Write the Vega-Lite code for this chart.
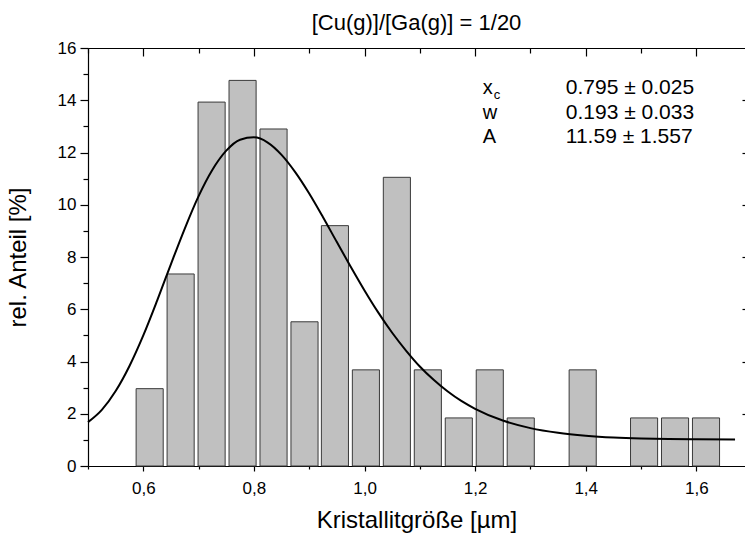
{
  "$schema": "https://vega.github.io/schema/vega-lite/v6.json",
  "width": 657,
  "height": 418,
  "autosize": {"type": "none"},
  "padding": {"left": 88, "top": 48, "right": 0, "bottom": 67},
  "background": "white",
  "config": {
    "font": "Liberation Sans",
    "view": {"stroke": null},
    "axis": {"grid": false, "domainColor": "black", "tickColor": "black", "labelColor": "black", "titleColor": "black", "domainWidth": 1.2, "tickWidth": 1.2, "titleFontWeight": "normal"}
  },
  "title": {"text": "[Cu(g)]/[Ga(g)] = 1/20", "fontSize": 22, "fontWeight": "normal", "anchor": "middle", "baseline": "alphabetic", "offset": 18, "dy": 31, "color": "black"},
  "datasets": {
    "bars": [
      {"x0": 0.587, "x1": 0.636, "pct": 2.96},
      {"x0": 0.643, "x1": 0.692, "pct": 7.35},
      {"x0": 0.699, "x1": 0.748, "pct": 13.93},
      {"x0": 0.755, "x1": 0.804, "pct": 14.76},
      {"x0": 0.811, "x1": 0.860, "pct": 12.9},
      {"x0": 0.867, "x1": 0.916, "pct": 5.52},
      {"x0": 0.922, "x1": 0.971, "pct": 9.2},
      {"x0": 0.978, "x1": 1.027, "pct": 3.68},
      {"x0": 1.034, "x1": 1.083, "pct": 11.05},
      {"x0": 1.090, "x1": 1.139, "pct": 3.68},
      {"x0": 1.146, "x1": 1.195, "pct": 1.84},
      {"x0": 1.202, "x1": 1.251, "pct": 3.68},
      {"x0": 1.258, "x1": 1.307, "pct": 1.84},
      {"x0": 1.370, "x1": 1.419, "pct": 3.68},
      {"x0": 1.481, "x1": 1.530, "pct": 1.84},
      {"x0": 1.537, "x1": 1.586, "pct": 1.84},
      {"x0": 1.593, "x1": 1.642, "pct": 1.84}
    ],
    "fit": [
      {"size": 0.5, "fit": 1.68},
      {"size": 0.525, "fit": 2.15},
      {"size": 0.55, "fit": 2.87},
      {"size": 0.575, "fit": 3.83},
      {"size": 0.6, "fit": 5.0},
      {"size": 0.625, "fit": 6.33},
      {"size": 0.65, "fit": 7.73},
      {"size": 0.675, "fit": 9.09},
      {"size": 0.7, "fit": 10.33},
      {"size": 0.725, "fit": 11.34},
      {"size": 0.75, "fit": 12.07},
      {"size": 0.775, "fit": 12.49},
      {"size": 0.8, "fit": 12.58},
      {"size": 0.825, "fit": 12.38},
      {"size": 0.85, "fit": 11.91},
      {"size": 0.875, "fit": 11.24},
      {"size": 0.9, "fit": 10.43},
      {"size": 0.925, "fit": 9.52},
      {"size": 0.95, "fit": 8.57},
      {"size": 0.975, "fit": 7.63},
      {"size": 1.0, "fit": 6.72},
      {"size": 1.025, "fit": 5.87},
      {"size": 1.05, "fit": 5.1},
      {"size": 1.075, "fit": 4.42},
      {"size": 1.1, "fit": 3.81},
      {"size": 1.125, "fit": 3.3},
      {"size": 1.15, "fit": 2.86},
      {"size": 1.175, "fit": 2.49},
      {"size": 1.2, "fit": 2.19},
      {"size": 1.25, "fit": 1.74},
      {"size": 1.3, "fit": 1.45},
      {"size": 1.35, "fit": 1.27},
      {"size": 1.4, "fit": 1.16},
      {"size": 1.45, "fit": 1.09},
      {"size": 1.5, "fit": 1.05},
      {"size": 1.55, "fit": 1.03},
      {"size": 1.6, "fit": 1.02},
      {"size": 1.67, "fit": 1.01}
    ],
    "params": [
      {"sym": "x", "val": "0.795 ± 0.025", "xs": 1.214, "xv": 1.364, "y": 14.46},
      {"sym": "w", "val": "0.193 ± 0.033", "xs": 1.214, "xv": 1.364, "y": 13.53},
      {"sym": "A", "val": "11.59 ± 1.557", "xs": 1.214, "xv": 1.364, "y": 12.61}
    ]
  },
  "layer": [
    {
      "data": {"name": "bars"},
      "mark": {"type": "bar", "fill": "#c0c0c0", "stroke": "#3a3a3a", "strokeWidth": 1},
      "encoding": {
        "x": {"field": "x0", "type": "quantitative",
          "scale": {"domain": [0.5, 1.688], "nice": false, "zero": false},
          "axis": {"orient": "bottom", "title": "Kristallitgröße [µm]", "values": [0.5, 0.6, 0.7, 0.8, 0.9, 1.0, 1.1, 1.2, 1.3, 1.4, 1.5, 1.6],
            "labelExpr": "round(datum.value*10)%2==0 ? replace(format(datum.value, '.1f'), '.', ',') : ''",
            "tickSize": {"condition": {"test": "round(datum.value*10)%2==0", "value": 5}, "value": 3},
            "labelFontSize": 17, "labelPadding": 9, "labelFlush": false, "labelOverlap": false,
            "titleFontSize": 24, "titlePadding": 12}},
        "x2": {"field": "x1"},
        "y": {"field": "pct", "type": "quantitative",
          "scale": {"domain": [0, 16], "nice": false},
          "axis": {"orient": "left", "title": "rel. Anteil [%]", "values": [0, 1, 2, 3, 4, 5, 6, 7, 8, 9, 10, 11, 12, 13, 14, 15, 16],
            "labelExpr": "datum.value%2==0 ? datum.label : ''",
            "tickSize": {"condition": {"test": "datum.value%2==0", "value": 8}, "value": 5},
            "labelFontSize": 17, "labelPadding": 4, "labelFlush": false, "labelOverlap": false,
            "titleFontSize": 24, "titlePadding": 27}},
        "y2": {"datum": 0}
      }
    },
    {
      "data": {"name": "fit"},
      "mark": {"type": "line", "color": "black", "strokeWidth": 2, "interpolate": "monotone"},
      "encoding": {
        "x": {"field": "size", "type": "quantitative",
          "axis": {"orient": "top", "title": null, "labels": false, "values": [0.5, 0.6, 0.7, 0.8, 0.9, 1.0, 1.1, 1.2, 1.3, 1.4, 1.5, 1.6],
            "tickSize": {"condition": {"test": "round(datum.value*10)%2==0", "value": -8}, "value": -5}}},
        "y": {"field": "fit", "type": "quantitative",
          "axis": {"orient": "right", "title": null, "labels": false, "domain": false, "values": [2, 4, 6, 8, 10, 12, 14], "tickSize": -3}}
      }
    },
    {
      "data": {"name": "params"},
      "mark": {"type": "text", "align": "left", "baseline": "middle", "fontSize": 20, "color": "black"},
      "encoding": {
        "x": {"field": "xs", "type": "quantitative", "axis": null},
        "y": {"field": "y", "type": "quantitative", "axis": null},
        "text": {"field": "sym"}
      }
    },
    {
      "data": {"name": "params"},
      "transform": [{"filter": "datum.sym === 'x'"}],
      "mark": {"type": "text", "align": "left", "baseline": "middle", "fontSize": 13, "color": "black", "dx": 11, "dy": 7},
      "encoding": {
        "x": {"field": "xs", "type": "quantitative", "axis": null},
        "y": {"field": "y", "type": "quantitative", "axis": null},
        "text": {"value": "c"}
      }
    },
    {
      "data": {"name": "params"},
      "mark": {"type": "text", "align": "left", "baseline": "middle", "fontSize": 21, "color": "black"},
      "encoding": {
        "x": {"field": "xv", "type": "quantitative", "axis": null},
        "y": {"field": "y", "type": "quantitative", "axis": null},
        "text": {"field": "val"}
      }
    }
  ]
}
